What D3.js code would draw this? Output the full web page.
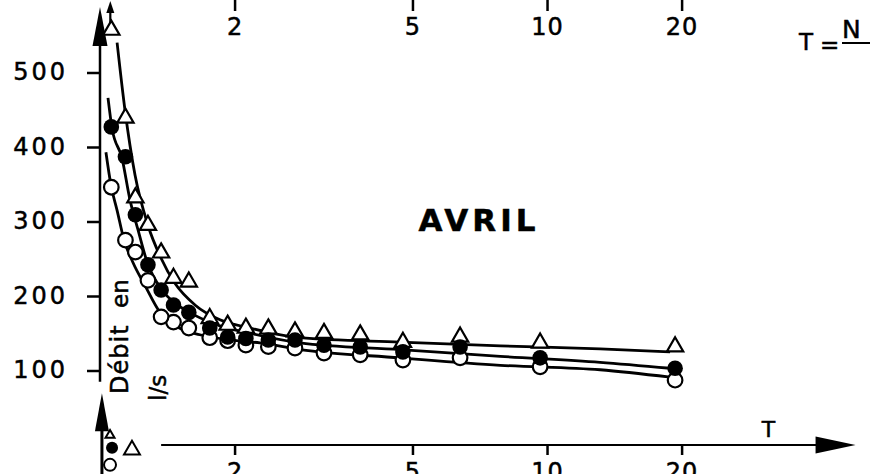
<!DOCTYPE html>
<html>
<head>
<meta charset="utf-8">
<script src="https://cdn.jsdelivr.net/npm/d3@7"></script>
<style>
  body { margin: 0; background: #fff; }
  svg { display: block; }
  text { font-family: "DejaVu Sans", sans-serif; fill: #000; stroke: #000; stroke-width: 0.5px; }
</style>
</head>
<body>
<svg id="chart" width="870" height="474"></svg>
<script>
// Return period T = N/m of each ranked April flow (m = 1 .. 18)
const periods = [19.34, 9.65, 6.39, 4.76, 3.82, 3.17, 2.73, 2.38, 2.12, 1.93, 1.76, 1.58, 1.46, 1.37, 1.28, 1.20, 1.14, 1.06];
// Observed flows (l/s) for the three stations, same order as periods
const triangleFlows = [132, 137, 145, 138, 148, 150, 152, 156, 157, 161, 170, 219, 224, 258, 295, 332, 439, 557];
const filledFlows   = [103, 117, 131.5, 125, 131.5, 134, 141, 141, 143, 145, 157, 178, 188, 208, 242, 309, 387, 427];
const openFlows     = [87, 105, 117, 114, 121, 123.5, 130, 132, 134, 140, 144, 157, 165, 172, 221, 259, 275, 346];

// Fitted curves
const triangleCurveT = [1.092, 1.137, 1.198, 1.28, 1.369, 1.471, 1.631, 1.855, 2.166, 2.801, 4.69, 7.86, 13.14, 18.85];
const triangleCurveQ = [540, 450, 362, 295, 251, 217, 188, 168, 157, 144, 138, 133, 129, 125];
const filledCurveT = [1.042, 1.064, 1.12, 1.167, 1.216, 1.274, 1.376, 1.491, 1.631, 1.855, 2.166, 2.801, 4.69, 7.86, 13.14, 18.85];
const filledCurveQ = [466, 425, 385, 329, 289, 246, 208, 188, 174, 160, 150, 137, 128, 119, 111, 103];
const openCurveT = [1.031, 1.058, 1.092, 1.132, 1.185, 1.261, 1.362, 1.494, 1.673, 1.953, 2.28, 2.801, 4.69, 7.86, 13.14, 18.85];
const openCurveQ = [393, 349, 315, 275, 245, 214, 178, 158, 148, 141, 137, 128, 117, 107, 101, 91];

// Axis ticks
const yTicks = [100, 200, 300, 400, 500];
const tTicks = [2, 5, 10, 20];
const yAxisTop = 588, yAxisBottom = 85;     // flow extent of the vertical axis
const tAxisStart = 1.37, tAxisEnd = 49;     // T extent of the horizontal axis

// Start of the next panel, visible below this one
const lowerAxisT = 1.01, lowerAxisTop = 170;
const lowerTriangleT = [1.053, 1.179], lowerTriangleQ = [114, 94], lowerTriangleSize = [35, 110];
const lowerFilledT = [1.064], lowerFilledQ = [97];
const lowerOpenT = [1.053], lowerOpenQ = [74];

const svg = d3.select("#chart");
const x = d3.scaleLog().domain([1, 20]).range([100, 681.6]);
const y = d3.scaleLinear().domain([0, 500]).range([445, 72.5]);
const yLower = d3.scaleLinear().domain([0, 100]).range([520, 445.5]);

const pts = (ts, qs) => ts.map((t, i) => [t, qs[i]]);
const styleTicks = (sel, size, spacing) => sel.selectAll(".tick text")
  .style("font-family", "'DejaVu Sans', sans-serif")
  .style("font-size", size + "px").style("letter-spacing", spacing + "px")
  .attr("fill", "#000").attr("stroke", "#000").attr("stroke-width", 0.5);

// Vertical axis with arrow
svg.append("line")
  .attr("x1", x(1)).attr("x2", x(1))
  .attr("y1", y(yAxisTop) + 36).attr("y2", y(yAxisBottom))
  .attr("stroke", "#000").attr("stroke-width", 2.5);
svg.append("path")
  .attr("d", `M${x(1)},${y(yAxisTop)} L${x(1) + 7.5},${y(yAxisTop) + 39} L${x(1) - 7.5},${y(yAxisTop) + 39} Z`)
  .attr("fill", "#000");

const yAxis = svg.append("g")
  .attr("transform", `translate(${x(1)},0)`)
  .call(d3.axisLeft(y).tickValues(yTicks).tickSize(13).tickPadding(19));
yAxis.select(".domain").remove();
yAxis.selectAll(".tick line").attr("stroke", "#000").attr("stroke-width", 2.5);
styleTicks(yAxis, 24, 3);
yAxis.selectAll(".tick text").attr("dy", "0.3em");

// Horizontal axis with arrow
const axisY = y(0);
svg.append("line")
  .attr("x1", x(tAxisStart)).attr("x2", x(tAxisEnd) - 36)
  .attr("y1", axisY).attr("y2", axisY)
  .attr("stroke", "#000").attr("stroke-width", 2);
svg.append("path")
  .attr("d", `M${x(tAxisEnd)},${axisY} L${x(tAxisEnd) - 40},${axisY - 8.5} L${x(tAxisEnd) - 40},${axisY + 8.5} Z`)
  .attr("fill", "#000");
const xAxis = svg.append("g")
  .attr("transform", `translate(0,${axisY})`)
  .call(d3.axisBottom(x).tickValues(tTicks).tickFormat(d3.format("d")).tickSize(10));
xAxis.select(".domain").remove();
xAxis.selectAll(".tick line").attr("stroke", "#000").attr("stroke-width", 2.5);
styleTicks(xAxis, 24, 1);
xAxis.selectAll(".tick text").attr("y", 35).attr("dy", 0);
svg.append("text").attr("x", x(tAxisEnd) - 87).attr("y", axisY - 8)
  .attr("text-anchor", "middle").style("font-size", "22px").text("T");

// Top scale of return periods
const topAxis = svg.append("g")
  .call(d3.axisBottom(x).tickValues(tTicks).tickFormat(d3.format("d")).tickSize(11));
topAxis.select(".domain").remove();
topAxis.selectAll(".tick line").attr("stroke", "#000").attr("stroke-width", 2.5);
styleTicks(topAxis, 24, 1);
topAxis.selectAll(".tick text").attr("y", 35).attr("dy", 0);

// T = N / m
svg.append("text").attr("x", 799).attr("y", 50).style("font-size", "23px").text("T");
svg.append("text").attr("x", 820).attr("y", 53).style("font-size", "23px").text("=");
svg.append("text").attr("x", 842).attr("y", 38).style("font-size", "25px").text("N");
svg.append("line").attr("x1", 842).attr("x2", 880).attr("y1", 43).attr("y2", 43)
  .attr("stroke", "#000").attr("stroke-width", 2);

// Month title
svg.append("text").attr("x", 479).attr("y", 231).attr("text-anchor", "middle")
  .style("font-size", "31px").style("font-weight", "bold").style("letter-spacing", "4px")
  .text("AVRIL");

// Vertical axis title
svg.append("text").attr("transform", "translate(128,394) rotate(-90)")
  .style("font-size", "24px").style("letter-spacing", "1px").text("Débit");
svg.append("text").attr("transform", "translate(128,308) rotate(-90)")
  .style("font-size", "23px").text("en");
svg.append("text").attr("transform", "translate(166,401) rotate(-90)")
  .style("font-size", "23px").text("l/s");

// Fitted curves
const line = d3.line().x(d => x(d[0])).y(d => y(d[1])).curve(d3.curveMonotoneX);
[[triangleCurveT, triangleCurveQ], [filledCurveT, filledCurveQ], [openCurveT, openCurveQ]]
  .forEach(([ts, qs]) => {
    svg.append("path").datum(pts(ts, qs)).attr("d", line)
      .attr("fill", "none").attr("stroke", "#000").attr("stroke-width", 2.8);
  });

// Observations
const tri = d3.symbol().type(d3.symbolTriangle).size(115);
svg.append("g").selectAll("circle").data(pts(periods, openFlows)).join("circle")
  .attr("cx", d => x(d[0])).attr("cy", d => y(d[1])).attr("r", 7.3)
  .attr("fill", "#fff").attr("stroke", "#000").attr("stroke-width", 2.2);
svg.append("g").selectAll("path").data(pts(periods, triangleFlows)).join("path")
  .attr("transform", d => `translate(${x(d[0])},${y(d[1])})`).attr("d", tri)
  .attr("fill", "#fff").attr("stroke", "#000").attr("stroke-width", 2.2);
svg.append("g").selectAll("circle").data(pts(periods, filledFlows)).join("circle")
  .attr("cx", d => x(d[0])).attr("cy", d => y(d[1])).attr("r", 7.8)
  .attr("fill", "#000");

// Flow above the top of the scale
const maxIdx = d3.maxIndex(triangleFlows);
const ax = x(periods[maxIdx]) - 1, ay = y(triangleFlows[maxIdx]) - 7;
svg.append("line").attr("x1", ax).attr("x2", ax).attr("y1", ay).attr("y2", ay - 12)
  .attr("stroke", "#000").attr("stroke-width", 2.2);
svg.append("path").attr("d", `M${ax},${ay - 22} L${ax + 4},${ay - 10} L${ax - 4},${ay - 10} Z`)
  .attr("fill", "#000");

// Next panel: axis arrow and first points
const lx = x(lowerAxisT);
svg.append("path")
  .attr("d", `M${lx},${yLower(lowerAxisTop)} L${lx + 7},${yLower(lowerAxisTop) + 38} L${lx - 7},${yLower(lowerAxisTop) + 38} Z`)
  .attr("fill", "#000");
svg.append("line").attr("x1", lx).attr("x2", lx)
  .attr("y1", yLower(lowerAxisTop) + 30).attr("y2", 474)
  .attr("stroke", "#000").attr("stroke-width", 3);
svg.append("g").selectAll("circle").data(pts(lowerOpenT, lowerOpenQ)).join("circle")
  .attr("cx", d => x(d[0])).attr("cy", d => yLower(d[1])).attr("r", 6)
  .attr("fill", "#fff").attr("stroke", "#000").attr("stroke-width", 2);
svg.append("g").selectAll("circle").data(pts(lowerFilledT, lowerFilledQ)).join("circle")
  .attr("cx", d => x(d[0])).attr("cy", d => yLower(d[1])).attr("r", 6)
  .attr("fill", "#000");
svg.append("g").selectAll("path").data(lowerTriangleT.map((t, i) => [t, lowerTriangleQ[i], lowerTriangleSize[i]])).join("path")
  .attr("transform", d => `translate(${x(d[0])},${yLower(d[1])})`)
  .attr("d", d => d3.symbol().type(d3.symbolTriangle).size(d[2])())
  .attr("fill", "#fff").attr("stroke", "#000").attr("stroke-width", 2);
</script>
</body>
</html>
